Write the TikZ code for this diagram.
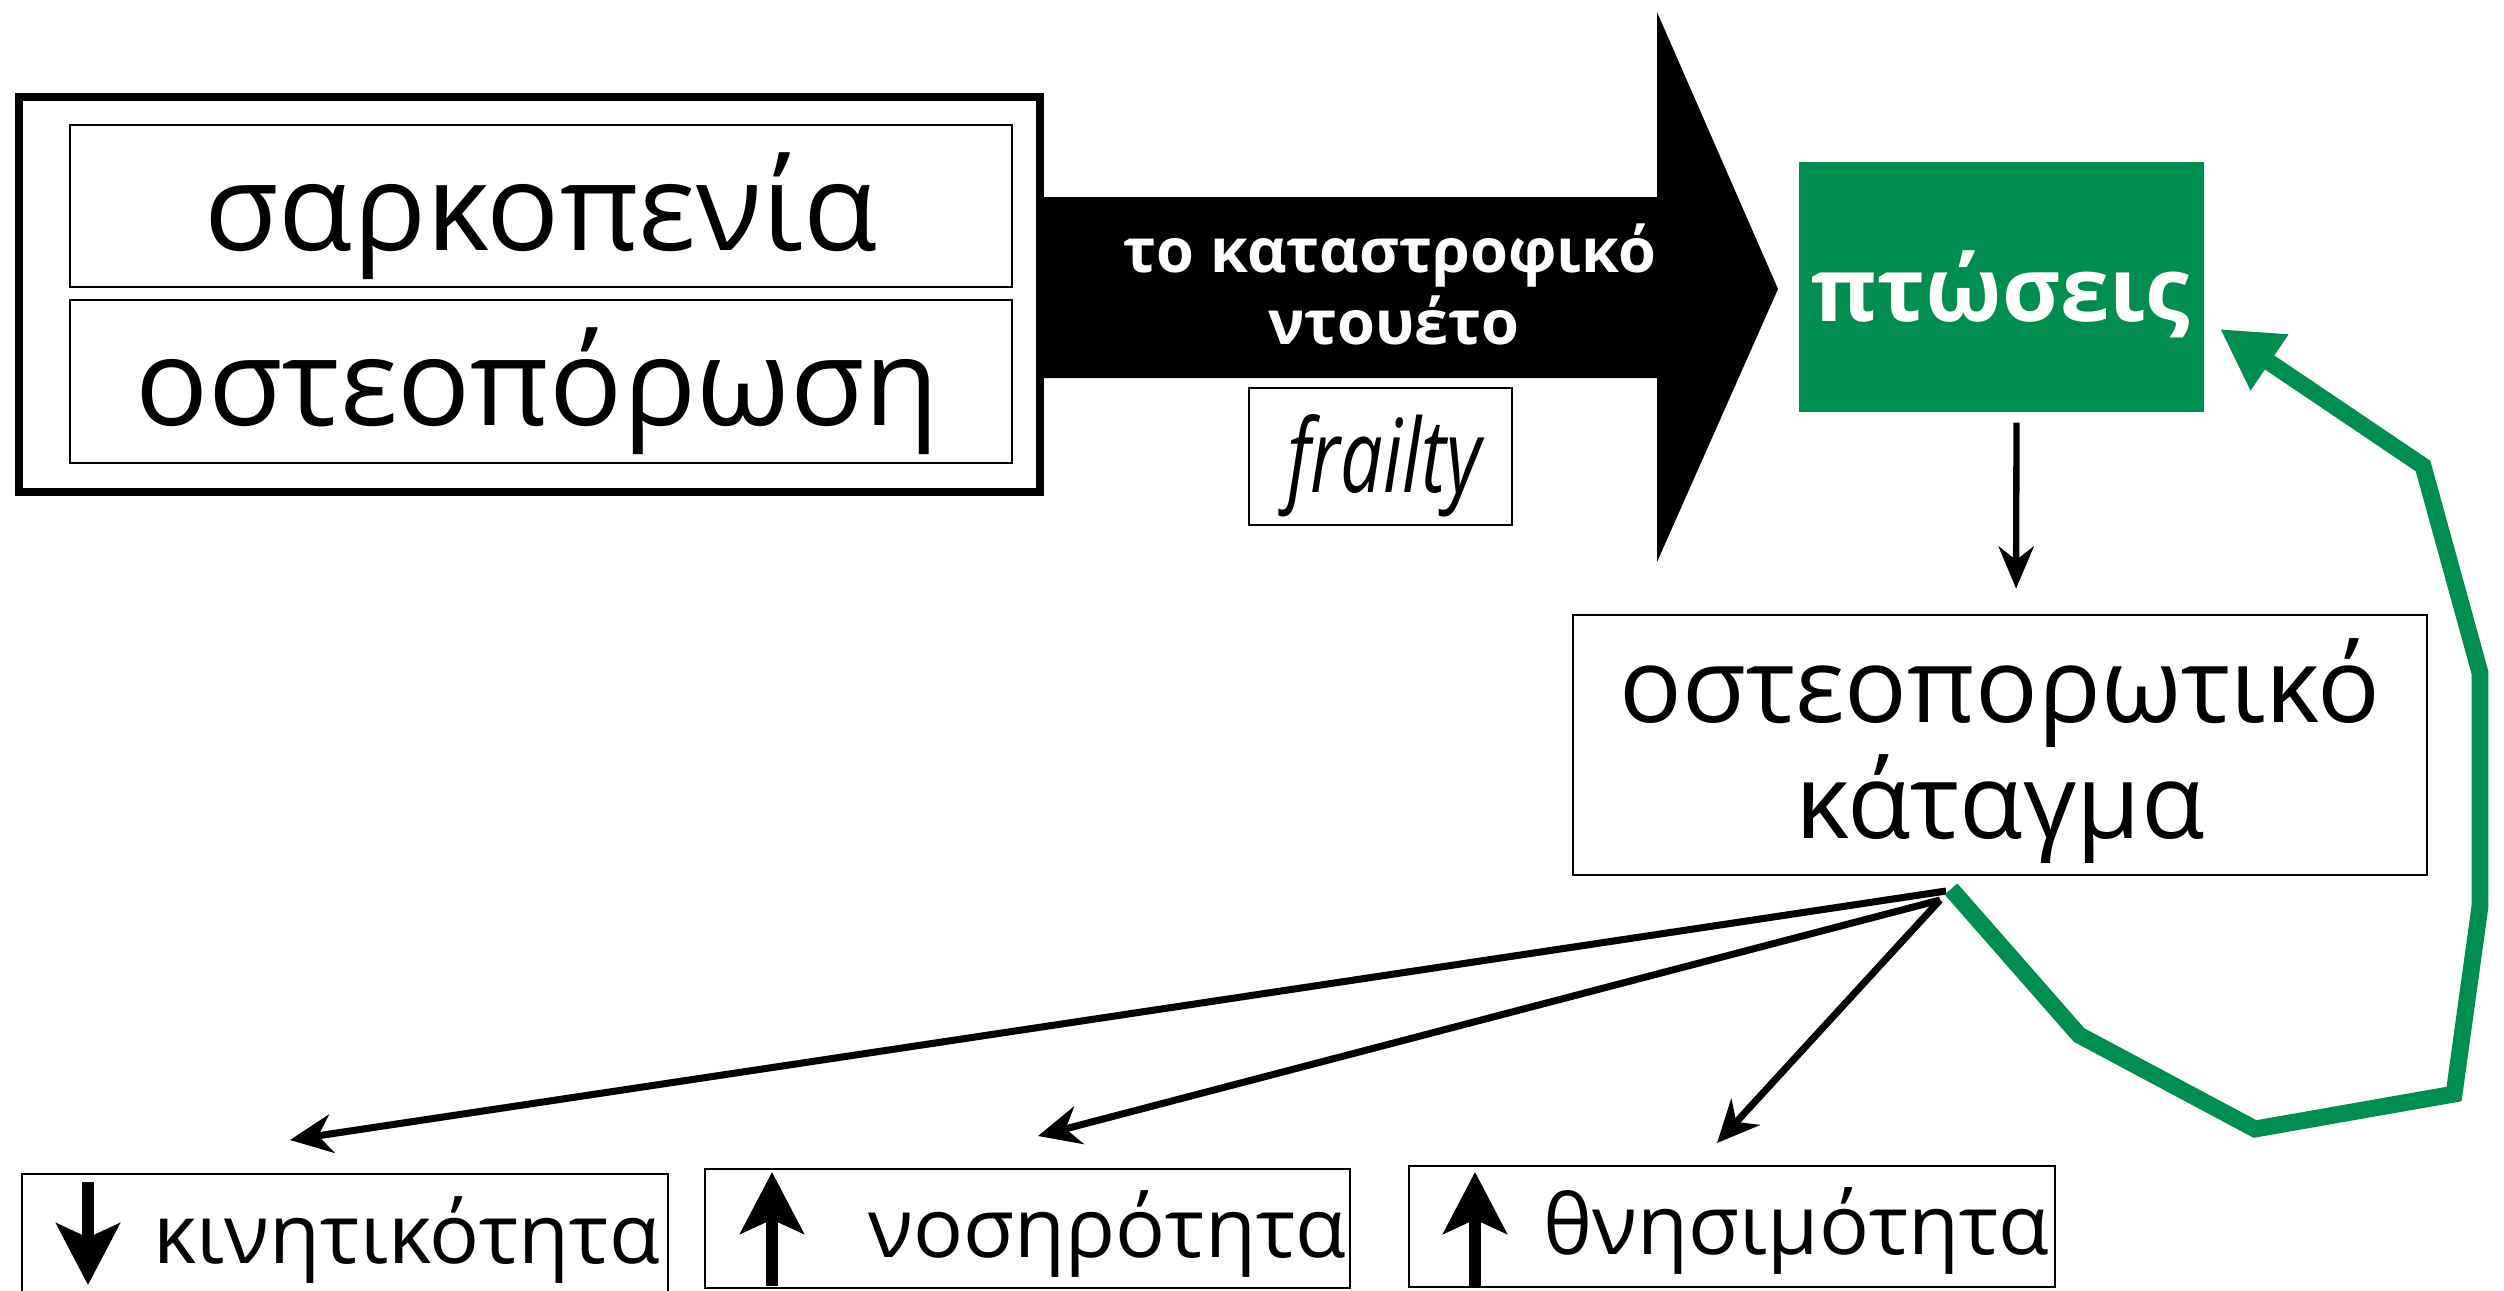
\documentclass[tikz,border=0pt]{standalone}
\usepackage{fontspec}
\setmainfont{Open Sans}
\usetikzlibrary{arrows.meta,fit}
\definecolor{fallgreen}{RGB}{0,141,80}

\begin{document}
\begin{tikzpicture}[x=0.01cm,y=-0.01cm,
  thinbox/.style={draw,line width=0.8pt,inner sep=0pt},
  outerbox/.style={draw,line width=2.4pt,inner sep=0pt},
  bigtext/.style={anchor=base,inner sep=0pt,font=\fontsize{34.5}{40}\selectfont},
  midtext/.style={anchor=base,inner sep=0pt,font=\fontsize{29.6}{35}\selectfont},
  smalltext/.style={anchor=base,inner sep=0pt,font=\fontsize{23.6}{28}\selectfont},
  link/.style={line width=2pt,-{Stealth[length=12pt,width=11pt]}},
  trend/.style={line width=3.2pt,-{Stealth[length=17.5pt,width=18pt,inset=4pt]}},
  loopline/.style={draw=fallgreen,line width=4.8pt,line join=miter,
    -{Triangle[length=17pt,width=18pt]}}]
\useasboundingbox (0,0) rectangle (2504,1290);

% left block: the two conditions
\node[outerbox,fit={(19,97) (1040,492)}] (pair) {};
\node[thinbox,fit={(70,125) (1012,287)}] (sarc) {};
\node[thinbox,fit={(70,300) (1012,463)}] (osteo) {};
\node[bigtext] (sarc-t) at (541,250) {σαρκοπενία};
\node[bigtext] (osteo-t) at (537,425) {οστεοπόρωση};

% the big black arrow
\fill (1040,197) -- (1657,197) -- (1657,12) -- (1778,289) -- (1657,562)
  -- (1657,378) -- (1040,378) -- cycle;
\node[anchor=base,inner sep=0pt,text=white,font=\bfseries\fontsize{17.4}{21}\selectfont]
  (duet1) at (1390,272) {το καταστροφικό};
\node[anchor=base,inner sep=0pt,text=white,font=\bfseries\fontsize{17.4}{21}\selectfont]
  (duet2) at (1394,344) {ντουέτο};

% frailty label
\node[thinbox,fit={(1249,388) (1512,525)}] (frail) {};
\node[anchor=base,inner sep=0pt,font=\itshape\fontsize{29}{34}\selectfont]
  (frail-t) at (1384,492) {\scalebox{0.74}[1]{frailty}};

% falls
\node[fill=fallgreen,inner sep=0pt,fit={(1799,162) (2204,412)}] (fall) {};
\node[anchor=base,inner sep=0pt,text=white,font=\bfseries\fontsize{25.3}{30}\selectfont]
  (fall-t) at (2001,321) {πτώσεις};

% fracture
\node[thinbox,fit={(1573,615) (2427,875)}] (frac) {};
\node[midtext] (frac-t1) at (2000,722) {οστεοπορωτικό};
\node[midtext] (frac-t2) at (2000,838) {κάταγμα};

\draw[line width=1.8pt,-{Stealth[length=12pt,width=10pt]}]
  ([xshift=0.15cm,yshift=-0.1cm]fall.south) -- ([xshift=0.16cm,yshift=0.25cm]frac.north);

% outcomes
\node[thinbox,fit={(22,1174) (668,1295)}] (mob) {};
\node[thinbox,fit={(705,1169) (1350,1288)}] (morb) {};
\node[thinbox,fit={(1409,1166) (2055,1287)}] (mort) {};
\node[smalltext,anchor=base west] (mob-t) at (153,1263) {κινητικότητα};
\node[smalltext,anchor=base west] (morb-t) at (868,1257) {νοσηρότητα};
\node[smalltext,anchor=base west] (mort-t) at (1543,1254) {θνησιμότητα};

\coordinate (mob-a) at (88,1182);   \coordinate (mob-b) at (88,1285);
\coordinate (morb-a) at (772,1286); \coordinate (morb-b) at (772,1172);
\coordinate (mort-a) at (1475,1287); \coordinate (mort-b) at (1475,1172);
\draw[trend] (mob-a) -- (mob-b);
\draw[trend] (morb-a) -- (morb-b);
\draw[trend] (mort-a) -- (mort-b);

% consequences of the fracture
\coordinate (src1) at (1946,891);
\coordinate (src2) at (1940,900);
\coordinate (to-mob) at (290,1140);
\coordinate (to-morb) at (1038,1136);
\coordinate (to-mort) at (1717,1143);
\draw[link] (src1) -- (to-mob);
\draw[link] (src2) -- (to-morb);
\draw[link] (src2) -- (to-mort);

% feedback loop back to falls
\coordinate (loop0) at (1951,889);
\coordinate (loopend) at (2220,329);
\draw[loopline] (loop0) -- (2079,1035) -- (2255,1129) -- (2454,1094)
  -- (2480,906) -- (2480,673) -- (2423,466) -- (loopend);
\end{tikzpicture}
\end{document}
